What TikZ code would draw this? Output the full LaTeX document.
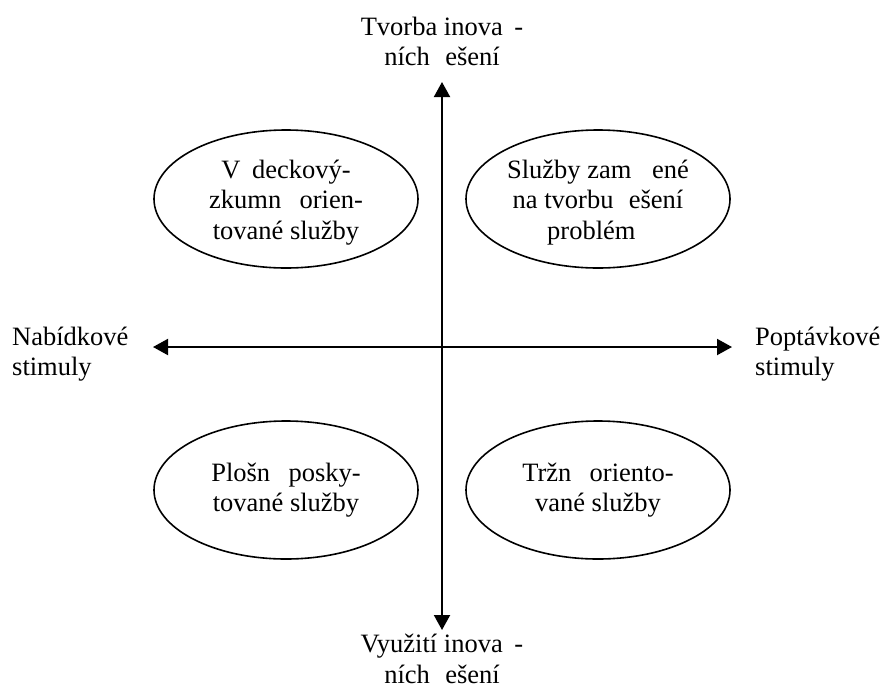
\documentclass[tikz,border=0pt]{standalone}
\usepackage{fontspec}
\setmainfont{Liberation Serif}
\usetikzlibrary{arrows.meta,shapes.geometric}
\tikzset{
  oval/.style={draw, ellipse, line width=1.6pt, minimum width=264pt, minimum height=138pt, inner sep=0pt},
  lbl/.style={align=center, inner sep=0pt, font=\fontsize{26.5}{30.5}\selectfont},
  side/.style={align=left, inner sep=0pt, font=\fontsize{26.5}{30.5}\selectfont},
  axis/.style={line width=2pt, {Triangle[length=15pt,width=16pt]}-{Triangle[length=15pt,width=16pt]}}
}
\begin{document}
\begin{tikzpicture}[x=1pt,y=-1pt]
\useasboundingbox (0,0) rectangle (883,689);
% axes
\coordinate (top) at (442,82);
\coordinate (bot) at (442,630);
\coordinate (lft) at (153,347);
\coordinate (rgt) at (732,347);
\draw[axis] (top) -- (bot);
\draw[axis] (lft) -- (rgt);
% axis labels (anchor = baseline of last line)
\node[lbl, anchor=base] (tlab) at (442,65.5) {Tvorba inova\hspace{.44em}-\\ních \hspace{.33em}ešení};
\node[lbl, anchor=base] (blab) at (442,683) {Využití inova\hspace{.44em}-\\ních \hspace{.33em}ešení};
\node[side, anchor=base west] (llab) at (12,375.5) {Nabídkové\\stimuly};
\node[side, anchor=base west] (rlab) at (755,375.5) {Poptávkové\\stimuly};
% ellipses
\node[oval] (e1) at (286,199) {};
\node[oval] (e2) at (598,199) {};
\node[oval] (e3) at (286,490) {};
\node[oval] (e4) at (598,490) {};
% ellipse texts
\node[lbl, anchor=base] (t1) at (286,239) {V\hspace{.44em}deckový-\\zkumn\hspace{.44em} orien-\\tované služby};
\node[lbl, anchor=base] (t2) at (598,239) {Služby zam\hspace{.78em}ené\\na tvorbu \hspace{.33em}ešení\\problém\hspace*{.5em}};
\node[lbl, anchor=base] (t3) at (286,511.5) {Plošn\hspace{.44em} posky-\\tované služby};
\node[lbl, anchor=base] (t4) at (598,511.5) {Tržn\hspace{.44em} oriento-\\vané služby};
\end{tikzpicture}
\end{document}
